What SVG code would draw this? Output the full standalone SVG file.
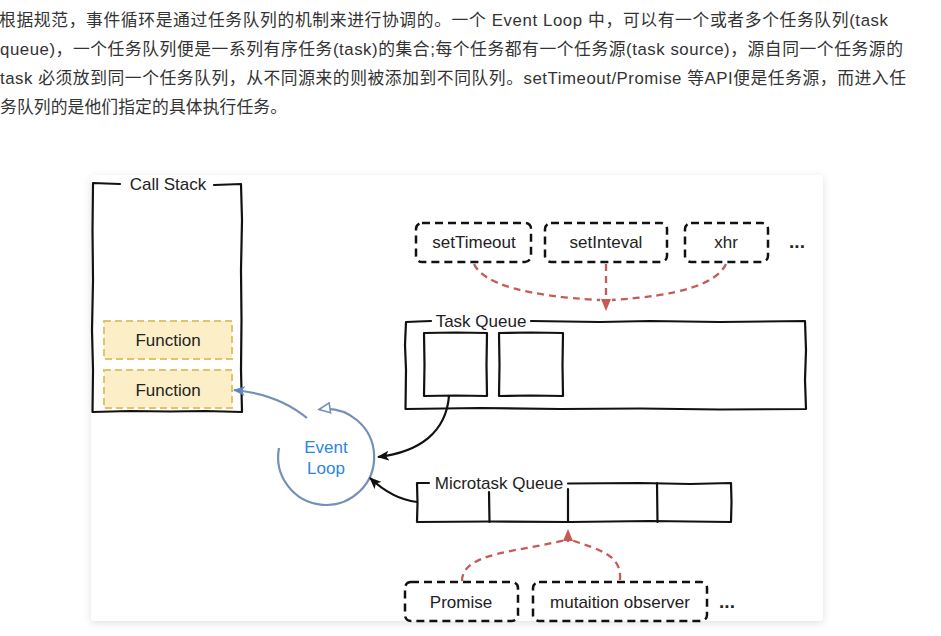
<svg xmlns="http://www.w3.org/2000/svg" width="941" height="636" viewBox="0 0 941 636">
<style>
.para{font-family:"Liberation Sans","Noto Sans CJK SC",sans-serif;font-size:16.8px;fill:#333}
.lbl{font-family:"Liberation Sans",Arial,sans-serif;font-size:17px;fill:#222;text-anchor:middle}
.dots{font-family:"Liberation Sans",Arial,sans-serif;font-size:19px;font-weight:bold;fill:#222;text-anchor:middle}
.sk{fill:none;stroke:#111;stroke-width:2.2;stroke-linejoin:round;stroke-linecap:round}
.src{fill:#fff;stroke:#111;stroke-width:2.5;stroke-dasharray:8 5}
.fn{fill:#fcefc8;stroke:#e0c36c;stroke-width:2;stroke-dasharray:7 4}
.red{fill:none;stroke:#c55a57;stroke-width:2.3;stroke-dasharray:7 5}
.blk{fill:none;stroke:#111;stroke-width:2.2}
.blu{fill:none;stroke:#7590b8;stroke-width:2.2}
</style>
<defs>
<filter id="sh" x="-5%" y="-5%" width="110%" height="112%">
<feDropShadow dx="0" dy="2" stdDeviation="4" flood-color="#000" flood-opacity="0.12"/>
</filter>
<marker id="ab" markerWidth="12" markerHeight="10" refX="11" refY="5" orient="auto" markerUnits="userSpaceOnUse">
<path d="M0,0 L12,5 L0,10 L3,5 Z" fill="#111"/>
</marker>
<marker id="ar" markerWidth="12" markerHeight="10" refX="11" refY="5" orient="auto" markerUnits="userSpaceOnUse">
<path d="M0,0 L12,5 L0,10 Z" fill="#c55a57"/>
</marker>
<marker id="abl" markerWidth="12" markerHeight="10" refX="11" refY="5" orient="auto" markerUnits="userSpaceOnUse">
<path d="M0,0 L12,5 L0,10 L3,5 Z" fill="#5f86c2"/>
</marker>
<marker id="ao" markerWidth="14" markerHeight="12" refX="12" refY="6" orient="auto" markerUnits="userSpaceOnUse">
<path d="M1,1 L12,6 L1,11 Z" fill="#fff" stroke="#7590b8" stroke-width="1.6"/>
</marker>
</defs>
<rect width="941" height="636" fill="#fff"/>
<g id="paragraph">
<text class="para" x="-1" y="26" textLength="889" lengthAdjust="spacing">根据规范，事件循环是通过任务队列的机制来进行协调的。一个 Event Loop 中，可以有一个或者多个任务队列(task</text>
<text class="para" x="0" y="55" textLength="903" lengthAdjust="spacing">queue)，一个任务队列便是一系列有序任务(task)的集合;每个任务都有一个任务源(task source)，源自同一个任务源的</text>
<text class="para" x="0" y="84" textLength="906" lengthAdjust="spacing">task 必须放到同一个任务队列，从不同源来的则被添加到不同队列。setTimeout/Promise 等API便是任务源，而进入任</text>
<text class="para" x="0" y="113" textLength="287" lengthAdjust="spacing">务队列的是他们指定的具体执行任务。</text>
</g>
<rect id="card" x="91" y="175" width="732" height="446" rx="4" fill="#fff" filter="url(#sh)"/>
<g id="call-stack">
<path class="sk" d="M120 184 L106 183.5 L93 183 L92.5 230 L93 280 L92 330 L93 370 L92.5 412 L130 411 L170 411.5 L205 411 L242 412 L241 370 L241.5 320 L241 270 L242 220 L241 184 L228 184.5 L214 185"/>
<text class="lbl" x="168" y="190">Call Stack</text>
</g>
<g id="function-1">
<rect class="fn" x="104" y="321" width="128" height="38"/>
<text class="lbl" x="168" y="346">Function</text>
</g>
<g id="function-2">
<rect class="fn" x="104" y="370" width="128" height="38"/>
<text class="lbl" x="168" y="396">Function</text>
</g>
<g id="event-loop">
<path class="blu" d="M279 448 A48 48 0 1 0 319 409.5" marker-end="url(#ao)"/>
<text x="326" y="453" font-family="Liberation Sans,Arial,sans-serif" font-size="17" fill="#2b86e0" text-anchor="middle">Event</text>
<text x="326" y="474" font-family="Liberation Sans,Arial,sans-serif" font-size="17" fill="#2b86e0" text-anchor="middle">Loop</text>
</g>
<g id="task-queue">
<path class="sk" d="M431 321 L418 321.5 L406 322 L405 345 L406 370 L405.5 409 L480 408 L560 409 L640 408.5 L720 409.5 L806 409 L805 380 L806 350 L805 321 L720 322 L650 321 L600 322 L531 321"/>
<text class="lbl" x="481" y="327">Task Queue</text>
<path class="sk" d="M424 333 L456 332.5 L487 333 L486.5 365 L487 396 L455 395.5 L424 396 L424.5 365 Z"/>
<path class="sk" d="M499 333 L531 332.5 L563 333 L562.5 365 L563 396 L531 395.5 L499 396 L499.5 365 Z"/>
</g>
<g id="microtask-queue">
<path class="sk" d="M429 483 L417 483 L417.5 503 L417 522 L490 521.5 L570 522 L650 521 L731 522 L731.5 502 L731 483 L690 484 L640 483 L568 483.5"/>
<path class="sk" d="M489 492 L489.5 522 M568 489 L568 522 M657 483 L657.5 522"/>
<text class="lbl" x="499" y="489">Microtask Queue</text>
</g>
<g id="src-settimeout">
<rect class="src" x="416" y="223" width="115" height="39" rx="6"/>
<text class="lbl" x="474" y="248">setTimeout</text>
</g>
<g id="src-setinteval">
<rect class="src" x="545" y="223" width="122" height="39" rx="6"/>
<text class="lbl" x="606" y="248">setInteval</text>
</g>
<g id="src-xhr">
<rect class="src" x="685" y="223" width="83" height="39" rx="6"/>
<text class="lbl" x="726" y="248">xhr</text>
</g>
<text id="more-1" class="dots" x="797" y="248">...</text>
<g id="src-promise">
<rect class="src" x="405" y="582" width="113" height="39" rx="6"/>
<text class="lbl" x="461" y="608">Promise</text>
</g>
<g id="src-mutation">
<rect class="src" x="533" y="582" width="174" height="39" rx="6"/>
<text class="lbl" x="620" y="608">mutaition observer</text>
</g>
<text id="more-2" class="dots" x="727" y="608">...</text>
<g id="connectors">
<path class="red" d="M474 264 Q488 294 600 300"/>
<path class="red" d="M726 264 Q712 294 612 300"/>
<path class="red" d="M606 264 L606 310" marker-end="url(#ar)"/>
<path class="red" d="M462 581 C462 552 520 552 565 540"/>
<path class="red" d="M620 580 C622 555 600 550 571 540"/>
<path class="red" d="M568 542 L568 530" marker-end="url(#ar)" stroke-dasharray="none"/>
<path class="blk" d="M449 396 C446 432 420 452 378 457" marker-end="url(#ab)"/>
<path class="blk" d="M417 502 C400 500 386 493 370 478" marker-end="url(#ab)"/>
<path class="blu" d="M307 418 Q278 394 234 390" marker-end="url(#abl)"/>
</g>
</svg>
